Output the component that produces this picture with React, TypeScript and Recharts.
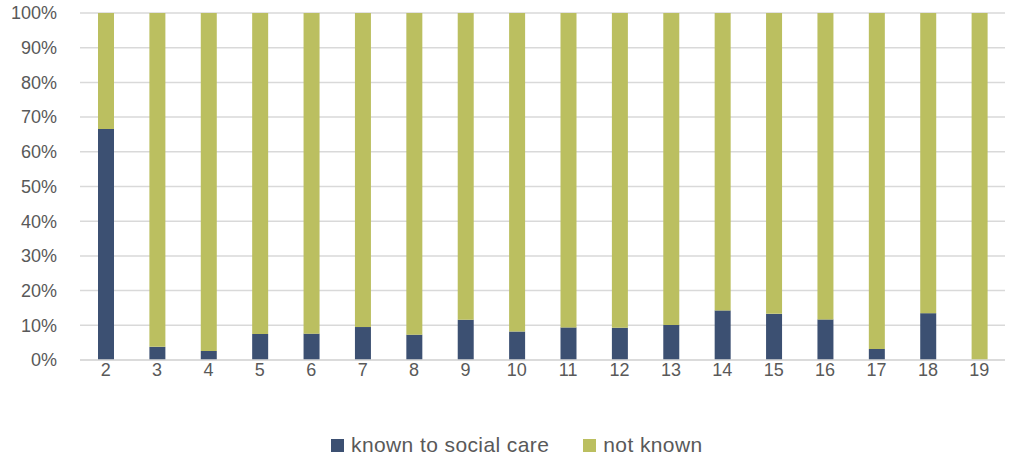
import React from 'react';
import { BarChart, Bar, XAxis, YAxis, CartesianGrid, Legend } from 'recharts';

const categories = ['2', '3', '4', '5', '6', '7', '8', '9', '10', '11', '12', '13', '14', '15', '16', '17', '18', '19'];
const knownValues = [66.6, 3.8, 2.6, 7.5, 7.6, 9.5, 7.3, 11.6, 8.2, 9.4, 9.3, 10.1, 14.3, 13.3, 11.7, 3.2, 13.5, 0];
const yTicks = [0, 10, 20, 30, 40, 50, 60, 70, 80, 90, 100];

const data = categories.map((c, i) => ({
  name: c,
  known: knownValues[i],
  notKnown: 100 - knownValues[i],
}));

const textColor = '#595959';
const font = '"Liberation Sans", Arial, sans-serif';

const renderLegend = (props: any) => {
  const { payload } = props;
  return (
    <div style={{ display: 'flex', alignItems: 'center', paddingLeft: 331, paddingTop: 18, fontFamily: font, fontSize: 21, letterSpacing: 0.4, color: textColor }}>
      {payload.map((entry: any, i: number) => (
        <div key={i} style={{ display: 'flex', alignItems: 'center', marginRight: 34 }}>
          <span style={{ display: 'inline-block', width: 13, height: 13, background: entry.color, marginRight: 7 }} />
          <span>{entry.value}</span>
        </div>
      ))}
    </div>
  );
};

export default function App() {
  return (
    <div style={{ position: 'absolute', left: 0, top: 0, width: 1009, height: 455, background: '#fff' }}>
      <BarChart
        width={1009}
        height={455}
        data={data}
        margin={{ top: 13, right: 4, bottom: 0, left: 0 }}
        barSize={16}
      >
        <CartesianGrid vertical={false} stroke="#d9d9d9" strokeWidth={1.5} />
        <XAxis
          dataKey="name"
          axisLine={{ stroke: '#d9d9d9', strokeWidth: 1.5 }}
          tickLine={false}
          tickSize={0}
          tickMargin={3}
          height={55}
          tick={{ fill: textColor, fontSize: 18, fontFamily: font }}
        />
        <YAxis
          domain={[0, 100]}
          ticks={yTicks}
          tickFormatter={(v: number) => `${v}%`}
          axisLine={false}
          tickLine={false}
          tickSize={0}
          tickMargin={23}
          width={80}
          tick={{ fill: textColor, fontSize: 18, fontFamily: font }}
        />
        <Legend
          verticalAlign="bottom"
          height={40}
          wrapperStyle={{ left: 0, width: 1009 }}
          content={renderLegend}
        />
        <Bar dataKey="known" name="known to social care" stackId="a" fill="#3c5072" isAnimationActive={false} />
        <Bar dataKey="notKnown" name="not known" stackId="a" fill="#bbbf60" isAnimationActive={false} />
      </BarChart>
    </div>
  );
}
